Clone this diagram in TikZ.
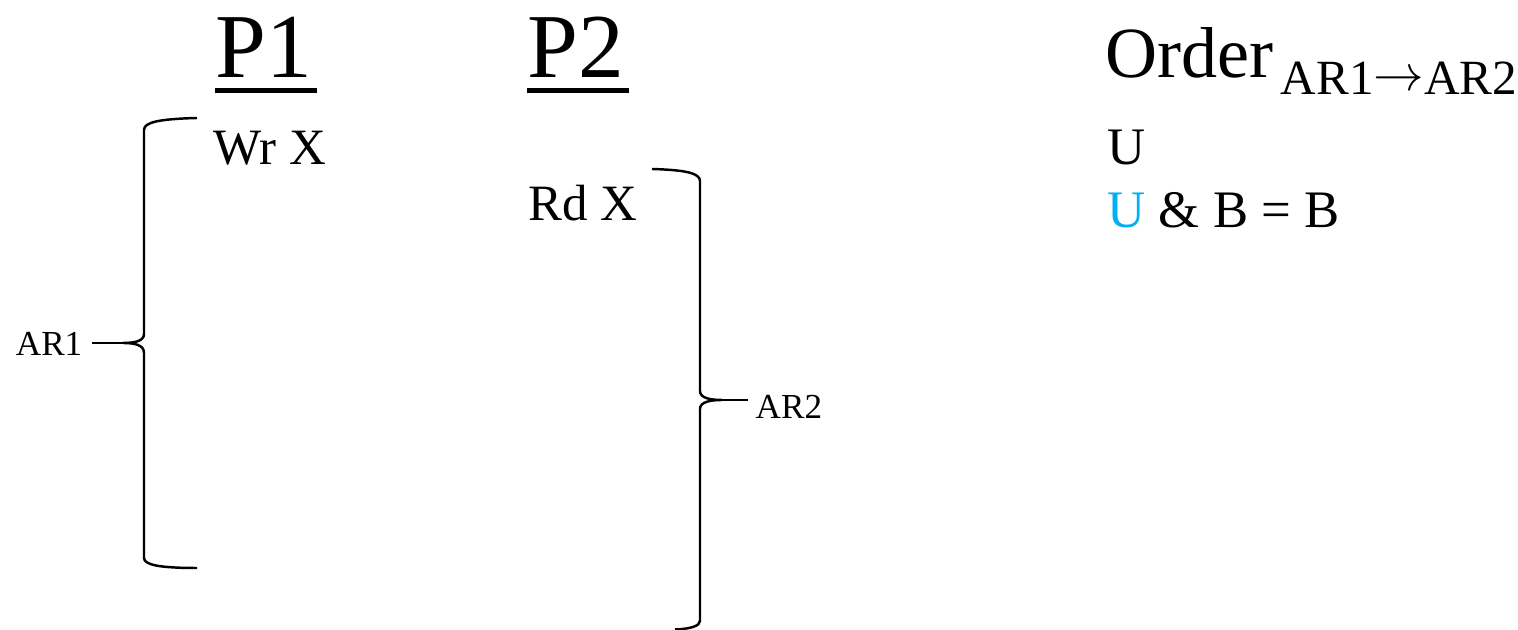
\documentclass[tikz,border=0pt]{standalone}
\usepackage{fontspec}
\setmainfont{Liberation Serif}
\usepackage{xcolor}
\definecolor{ublue}{HTML}{00B0F0}
\usetikzlibrary{positioning}
\tikzset{
  txt/.style={inner sep=0pt, anchor=base west, font=\fontsize{14.5}{17}\selectfont},
  head/.style={inner sep=0pt, anchor=base west, font=\fontsize{26}{30}\selectfont},
  lbl/.style={inner sep=0pt, font=\fontsize{10}{12}\selectfont},
  brc/.style={line width=0.7pt},
  ul/.style={line width=1.3pt}
}

\begin{document}
\begin{tikzpicture}
    \useasboundingbox (0,0) rectangle (15.18,6.3);
    % headings
    \node[head] (p1) at (2.15,5.52) {P1};
    \node[head] (p2) at (5.27,5.52) {P2};
    \draw[ul] ([yshift=-3.6pt]p1.base west) -- ++(1.02,0);
    \draw[ul] ([yshift=-3.6pt]p2.base west) -- ++(1.02,0);
    % operations
    \node[txt] (wr) at (2.13,4.65) {Wr X};
    \node[txt] (rd) at (5.28,4.09) {Rd X};
    % AR1 brace
    \coordinate (b1mid) at (1.23,2.87);
    \coordinate (t1) at (0.92,2.87);
    \node[lbl, anchor=east] (ar1) at (0.83,2.865) {AR1};
    \draw[brc] (1.97,5.12) .. controls (1.60,5.11) and (1.44,5.08) .. (1.44,5.00)
        -- (1.44,2.96) .. controls (1.44,2.89) and (1.35,2.87) .. (b1mid)
        .. controls (1.35,2.87) and (1.44,2.85) .. (1.44,2.77)
        -- (1.44,0.72) .. controls (1.44,0.65) and (1.60,0.62) .. (1.97,0.62);
    \draw[brc] (b1mid) -- (t1);
    % AR2 brace
    \coordinate (b2mid) at (7.22,2.30);
    \coordinate (t2) at (7.48,2.30);
    \node[lbl, anchor=west] (ar2) at (7.55,2.235) {AR2};
    \draw[brc] (6.52,4.61) .. controls (6.85,4.60) and (7.00,4.57) .. (7.00,4.49)
        -- (7.00,2.39) .. controls (7.00,2.32) and (7.10,2.30) .. (b2mid)
        .. controls (7.10,2.30) and (7.00,2.28) .. (7.00,2.21)
        -- (7.00,0.09) .. controls (7.00,0.04) and (6.90,0.01) .. (6.75,0.005);
    \draw[brc] (b2mid) -- (t2);
    % order column
    \node[txt, font=\fontsize{20.5}{24}\selectfont] (order) at (11.05,5.52) {Order};
    \node[txt, font=\fontsize{14}{17}\selectfont] (ordsub) at (12.80,5.35) {AR1\raisebox{1.2pt}{$\rightarrow$}AR2};
    \node[txt, font=\fontsize{15}{18}\selectfont] (u1) at (11.07,4.65) {U};
    \node[txt, font=\fontsize{15}{18}\selectfont] (u2) at (11.07,4.02) {\textcolor{ublue}{U} \& B = B};
\end{tikzpicture}
\end{document}
